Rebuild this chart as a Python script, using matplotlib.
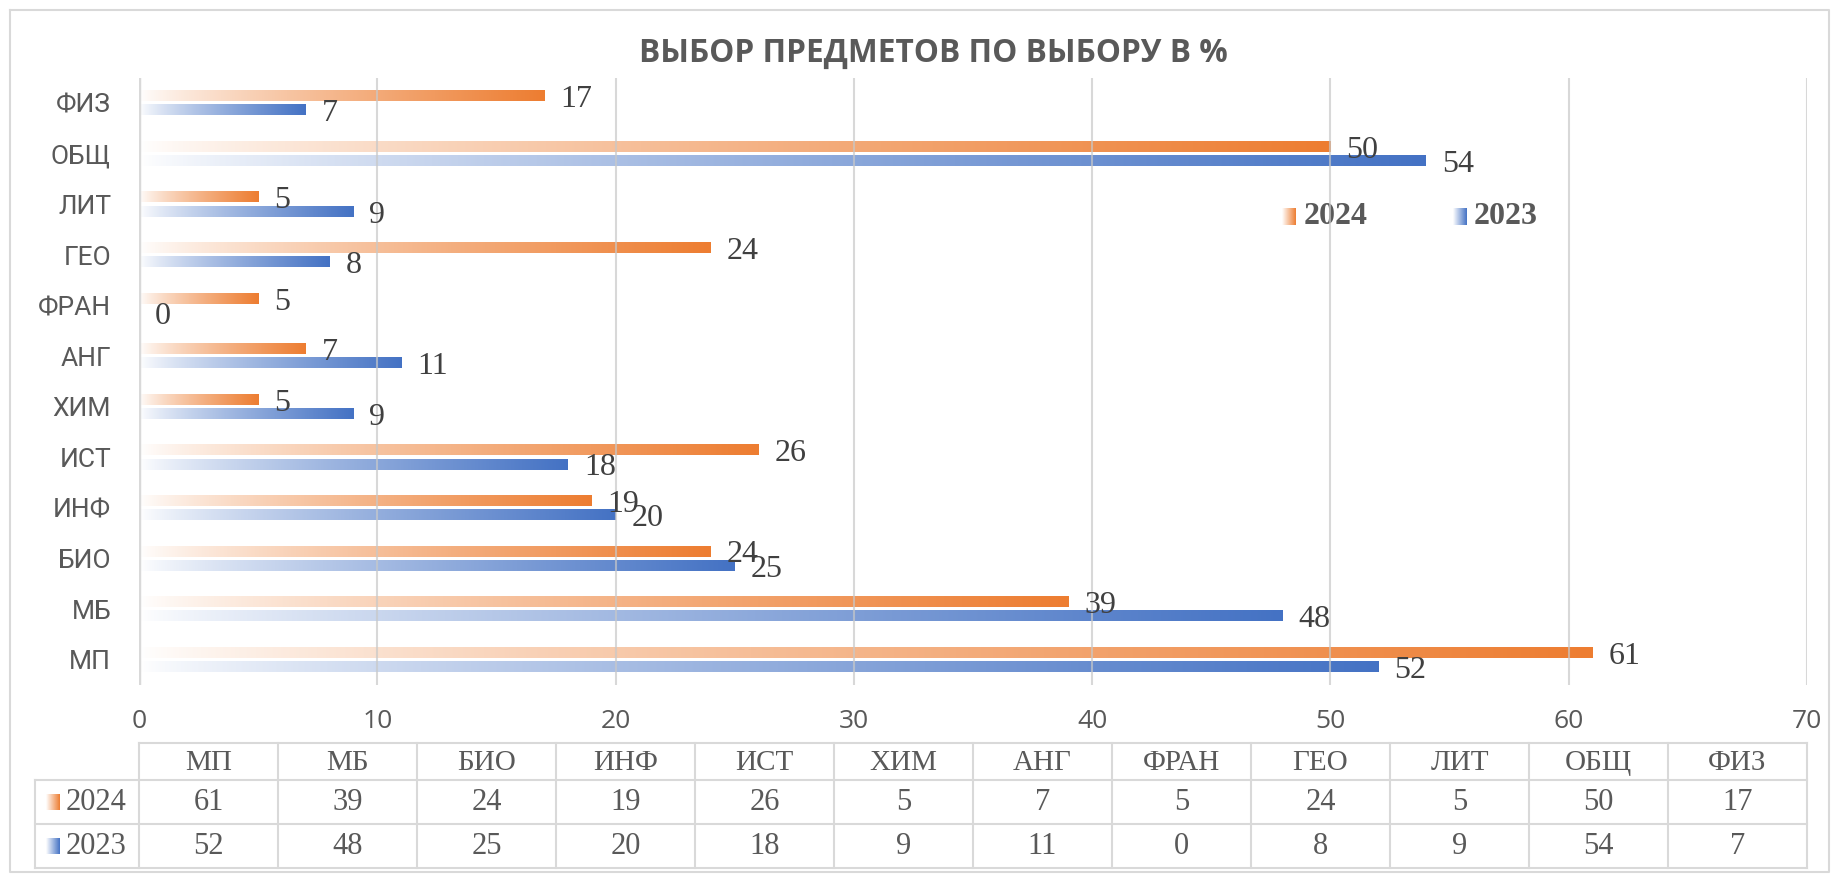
import numpy as np
import matplotlib
matplotlib.use("Agg")
import matplotlib.pyplot as plt
from matplotlib.colors import to_rgb

# ---- data ----
categories = ["МП", "МБ", "БИО", "ИНФ", "ИСТ", "ХИМ", "АНГ", "ФРАН", "ГЕО", "ЛИТ", "ОБЩ", "ФИЗ"]
values_2024 = [61, 39, 24, 19, 26, 5, 7, 5, 24, 5, 50, 17]
values_2023 = [52, 48, 25, 20, 18, 9, 11, 0, 8, 9, 54, 7]
series_names = ["2024", "2023"]
x_ticks = [0, 10, 20, 30, 40, 50, 60, 70]
title = "ВЫБОР ПРЕДМЕТОВ ПО ВЫБОРУ В %"

ORANGE = "#ED7D31"
BLUE = "#4472C4"
GRID = "#D9D9D9"
TXT = "#595959"
LBL = "#404040"
SANS = "Open Sans"
SERIF = "Liberation Serif"

W, H = 1838, 874
fig = plt.figure(figsize=(W / 100, H / 100), dpi=100)
fig.patch.set_facecolor("white")

# overlay axes in pixel coordinates (border, title, legend, table)
ov = fig.add_axes([0, 0, 1, 1])
ov.set_xlim(0, W)
ov.set_ylim(H, 0)
ov.axis("off")


def grad_img(color, n=256, power=0.8):
    c = np.array(to_rgb(color))
    t = np.linspace(0, 1, n) ** power
    rgb = 1 - t[:, None] * (1 - c[None, :])
    return rgb[None, :, :]


# chart border
ov.plot([10, 1829, 1829, 10, 10], [10, 10, 872, 872, 10], color=GRID, lw=1.5)

# title
ov.text(933, 53, title, ha="center", va="center", fontsize=22.8, fontweight="bold",
        family=SANS, color=TXT)

# main axes
L, R, T, B = 139, 1807, 78, 685
ax = fig.add_axes([L / W, 1 - B / H, (R - L) / W, (B - T) / H])
ax.patch.set_alpha(0)
n = len(categories)
ypos = np.arange(n)
bh = 0.2
off = 0.14

for i, (v24, v23) in enumerate(zip(values_2024, values_2023)):
    for v, col, dy in ((v24, ORANGE, off), (v23, BLUE, -off)):
        y = ypos[i] + dy
        if v > 0:
            ax.imshow(grad_img(col), extent=[0, v, y - bh / 2, y + bh / 2],
                      aspect="auto", interpolation="bilinear", zorder=2)
        ax.annotate(str(v), xy=(v, y), xytext=(11.5, -2.5), textcoords="offset points",
                    ha="left", va="center", fontsize=23, family=SERIF, color=LBL, zorder=5)

ax.set_xlim(0, 70)
ax.set_ylim(-0.5, n - 0.5)
ax.set_aspect("auto")
for x in x_ticks[1:]:
    ax.axvline(x, color="#C8C8C8", lw=1.5, alpha=0.7, zorder=3)
ax.axvline(0, color=GRID, lw=2.5, zorder=3)
for s in ax.spines.values():
    s.set_visible(False)
ax.set_xticks(x_ticks)
ax.set_xticklabels([str(x) for x in x_ticks], fontsize=19, family=SANS, color=TXT)
ax.set_yticks(ypos)
ax.set_yticklabels(categories, fontsize=19, family="Roboto", color=TXT)
ax.tick_params(axis="x", length=0, pad=17)
ax.tick_params(axis="y", length=0, pad=20)

# legend
for (kx, tx), name, col in zip([(1282, 1304), (1453, 1474)], series_names, [ORANGE, BLUE]):
    ov.imshow(grad_img(col, power=1.0), extent=[kx, kx + 14, 225, 208],
              aspect="auto", interpolation="bilinear")
    ov.text(tx, 217, name, ha="left", va="center", fontsize=23, fontweight="bold",
            family=SERIF, color=TXT)

# data table
rows_y = [743, 780, 824, 868]
col_w = (R - L) / n
tl = 35
ov.plot([L, R], [rows_y[0]] * 2, color=GRID, lw=1.5)
for yy in rows_y[1:]:
    ov.plot([tl, R], [yy, yy], color=GRID, lw=1.5)
ov.plot([tl, tl], [rows_y[1], rows_y[3]], color=GRID, lw=1.5)
for j in range(n + 1):
    xx = L + j * col_w
    ov.plot([xx, xx], [rows_y[0], rows_y[3]], color=GRID, lw=1.5)

hy = (rows_y[0] + rows_y[1]) / 2
r1 = (rows_y[1] + rows_y[2]) / 2
r2 = (rows_y[2] + rows_y[3]) / 2
for j, cat in enumerate(categories):
    cx = L + (j + 0.5) * col_w
    ov.text(cx, hy + 1, cat, ha="center", va="center", fontsize=21, family=SERIF, color=TXT)
    ov.text(cx, r1 + 1, str(values_2024[j]), ha="center", va="center", fontsize=22,
            family=SERIF, color=TXT)
    ov.text(cx, r2 + 1, str(values_2023[j]), ha="center", va="center", fontsize=22,
            family=SERIF, color=TXT)

for ry, name, col in zip([r1, r2], series_names, [ORANGE, BLUE]):
    ov.imshow(grad_img(col, power=1.0), extent=[46, 60, ry + 8, ry - 8],
              aspect="auto", interpolation="bilinear")
    ov.text(66, ry + 1, name, ha="left", va="center", fontsize=22, family=SERIF, color=TXT)

ov.set_xlim(0, W)
ov.set_ylim(H, 0)

fig.savefig("out.png", dpi=100, facecolor="white")
